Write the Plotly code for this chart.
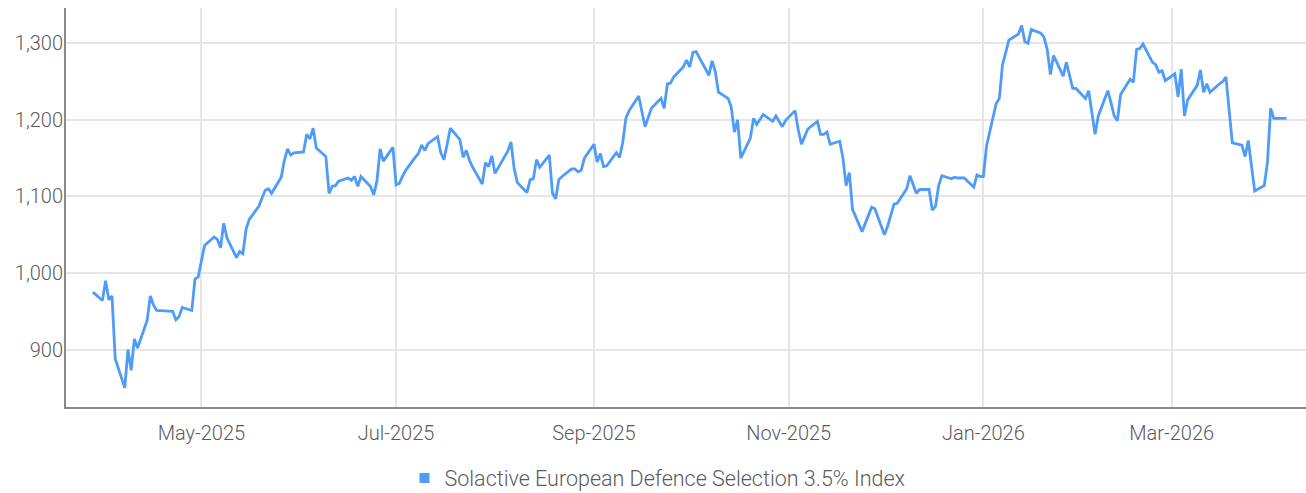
import plotly.graph_objects as go

dates = [
    "2025-03-28", "2025-03-31", "2025-04-01", "2025-04-02", "2025-04-03", "2025-04-04",
    "2025-04-07", "2025-04-08", "2025-04-09", "2025-04-10", "2025-04-11",
    "2025-04-14", "2025-04-15", "2025-04-16", "2025-04-17",
    "2025-04-22", "2025-04-23", "2025-04-24", "2025-04-25",
    "2025-04-28", "2025-04-29", "2025-04-30", "2025-05-02",
    "2025-05-05", "2025-05-06", "2025-05-07", "2025-05-08", "2025-05-09",
    "2025-05-12", "2025-05-13", "2025-05-14", "2025-05-15", "2025-05-16",
    "2025-05-19", "2025-05-20", "2025-05-21", "2025-05-22", "2025-05-23",
    "2025-05-26", "2025-05-27", "2025-05-28", "2025-05-29", "2025-05-30",
    "2025-06-02", "2025-06-03", "2025-06-04", "2025-06-05", "2025-06-06",
    "2025-06-09", "2025-06-10", "2025-06-11", "2025-06-12", "2025-06-13",
    "2025-06-16", "2025-06-17", "2025-06-18", "2025-06-19", "2025-06-20",
    "2025-06-23", "2025-06-24", "2025-06-25", "2025-06-26", "2025-06-27",
    "2025-06-30", "2025-07-01", "2025-07-02", "2025-07-03", "2025-07-04",
    "2025-07-07", "2025-07-08", "2025-07-09", "2025-07-10", "2025-07-11",
    "2025-07-14", "2025-07-15", "2025-07-16", "2025-07-17", "2025-07-18",
    "2025-07-21", "2025-07-22", "2025-07-23", "2025-07-24", "2025-07-25",
    "2025-07-28", "2025-07-29", "2025-07-30", "2025-07-31", "2025-08-01",
    "2025-08-04", "2025-08-05", "2025-08-06", "2025-08-07", "2025-08-08",
    "2025-08-11", "2025-08-12", "2025-08-13", "2025-08-14", "2025-08-15",
    "2025-08-18", "2025-08-19", "2025-08-20", "2025-08-21", "2025-08-22",
    "2025-08-25", "2025-08-26", "2025-08-27", "2025-08-28", "2025-08-29",
    "2025-09-01", "2025-09-02", "2025-09-03", "2025-09-04", "2025-09-05",
    "2025-09-08", "2025-09-09", "2025-09-10", "2025-09-11", "2025-09-12",
    "2025-09-15", "2025-09-16", "2025-09-17", "2025-09-18", "2025-09-19",
    "2025-09-22", "2025-09-23", "2025-09-24", "2025-09-25", "2025-09-26",
    "2025-09-29", "2025-09-30", "2025-10-01", "2025-10-02", "2025-10-03",
    "2025-10-06", "2025-10-07", "2025-10-08", "2025-10-09", "2025-10-10",
    "2025-10-13", "2025-10-14", "2025-10-15", "2025-10-16", "2025-10-17",
    "2025-10-20", "2025-10-21", "2025-10-22", "2025-10-23", "2025-10-24",
    "2025-10-27", "2025-10-28", "2025-10-29", "2025-10-30", "2025-10-31",
    "2025-11-03", "2025-11-04", "2025-11-05", "2025-11-06", "2025-11-07",
    "2025-11-10", "2025-11-11", "2025-11-12", "2025-11-13", "2025-11-14",
    "2025-11-17", "2025-11-18", "2025-11-19", "2025-11-20", "2025-11-21",
    "2025-11-24", "2025-11-25", "2025-11-26", "2025-11-27", "2025-11-28",
    "2025-12-01", "2025-12-02", "2025-12-03", "2025-12-04", "2025-12-05",
    "2025-12-08", "2025-12-09", "2025-12-10", "2025-12-11", "2025-12-12",
    "2025-12-15", "2025-12-16", "2025-12-17", "2025-12-18", "2025-12-19",
    "2025-12-22", "2025-12-23", "2025-12-24", "2025-12-26",
    "2025-12-29", "2025-12-30", "2025-12-31", "2026-01-01", "2026-01-02",
    "2026-01-05", "2026-01-06", "2026-01-07", "2026-01-08", "2026-01-09",
    "2026-01-12", "2026-01-13", "2026-01-14", "2026-01-15", "2026-01-16",
    "2026-01-19", "2026-01-20", "2026-01-21", "2026-01-22", "2026-01-23",
    "2026-01-26", "2026-01-27", "2026-01-28", "2026-01-29", "2026-01-30",
    "2026-02-02", "2026-02-03", "2026-02-04", "2026-02-05", "2026-02-06",
    "2026-02-09", "2026-02-10", "2026-02-11", "2026-02-12", "2026-02-13",
    "2026-02-16", "2026-02-17", "2026-02-18", "2026-02-19", "2026-02-20",
    "2026-02-23", "2026-02-24", "2026-02-25", "2026-02-26", "2026-02-27",
    "2026-03-02", "2026-03-03", "2026-03-04", "2026-03-05", "2026-03-06",
    "2026-03-09", "2026-03-10", "2026-03-11", "2026-03-12", "2026-03-13",
    "2026-03-16", "2026-03-17", "2026-03-18", "2026-03-19", "2026-03-20",
    "2026-03-23", "2026-03-24", "2026-03-25", "2026-03-26", "2026-03-27",
    "2026-03-30", "2026-03-31", "2026-04-01", "2026-04-02", "2026-04-06",
]

index_values = [
    975, 964, 990, 965, 970, 888,
    850, 900, 873, 914, 902,
    938, 970, 958, 951,
    950, 939, 943, 955,
    951, 992, 995, 1036,
    1047, 1044, 1033, 1065, 1046,
    1020, 1028, 1025, 1057, 1070,
    1087, 1098, 1108, 1110, 1104,
    1125, 1147, 1162, 1154, 1157,
    1158, 1181, 1175, 1189, 1163,
    1152, 1104, 1113, 1114, 1120,
    1124, 1121, 1126, 1113, 1126,
    1113, 1102, 1120, 1162, 1146,
    1164, 1115, 1117, 1126, 1134,
    1151, 1156, 1167, 1160, 1169,
    1178, 1157, 1148, 1168, 1189,
    1174, 1151, 1160, 1147, 1138,
    1116, 1144, 1139, 1153, 1130,
    1152, 1159, 1171, 1136, 1118,
    1105, 1122, 1123, 1148, 1138,
    1154, 1104, 1097, 1122, 1126,
    1136, 1136, 1132, 1134, 1150,
    1168, 1145, 1156, 1139, 1140,
    1157, 1151, 1170, 1202, 1212,
    1231, 1211, 1191, 1203, 1215,
    1228, 1215, 1247, 1248, 1256,
    1269, 1278, 1269, 1288, 1289,
    1266, 1258, 1277, 1263, 1236,
    1228, 1217, 1184, 1200, 1150,
    1176, 1202, 1194, 1200, 1207,
    1198, 1205, 1198, 1191, 1199,
    1212, 1187, 1168, 1178, 1188,
    1198, 1181, 1181, 1184, 1168,
    1172, 1150, 1114, 1131, 1083,
    1054, 1065, 1076, 1086, 1084,
    1050, 1061, 1076, 1090, 1091,
    1110, 1127, 1115, 1104, 1109,
    1109, 1082, 1087, 1114, 1127,
    1123, 1125, 1124, 1124,
    1112, 1128, 1126, 1126, 1166,
    1221, 1228, 1272, 1288, 1304,
    1312, 1323, 1302, 1300, 1318,
    1313, 1308, 1292, 1259, 1284,
    1257, 1275, 1258, 1241, 1241,
    1228, 1238, 1210, 1181, 1205,
    1238, 1222, 1205, 1199, 1233,
    1253, 1249, 1292, 1293, 1299,
    1275, 1272, 1262, 1264, 1251,
    1260, 1230, 1266, 1205, 1226,
    1245, 1265, 1236, 1247, 1236,
    1247, 1250, 1256, 1213, 1170,
    1167, 1152, 1173, 1140, 1107,
    1114, 1144, 1215, 1202, 1202,
]

series_name = "Solactive European Defence Selection 3.5% Index"
x_tick_dates = ["2025-05-01", "2025-07-01", "2025-09-01", "2025-11-01", "2026-01-01", "2026-03-01"]
x_tick_labels = ["May-2025", "Jul-2025", "Sep-2025", "Nov-2025", "Jan-2026", "Mar-2026"]
y_tick_values = [900, 1000, 1100, 1200, 1300]
y_tick_labels = ["900", "1,000", "1,100", "1,200", "1,300"]

LINE_COLOR = "#4f9cf8"
TEXT_COLOR = "#5b5b5b"
GRID_COLOR = "#e6e6e6"
AXIS_COLOR = "#8a8a8a"
FONT = "Roboto, 'Open Sans', sans-serif"

fig = go.Figure()
fig.add_trace(go.Scatter(
    x=dates, y=index_values, mode="lines", name=series_name,
    line=dict(color=LINE_COLOR, width=2.8), showlegend=False,
))
# legend entry drawn as a square swatch, as in the reference
fig.add_trace(go.Scatter(
    x=[None], y=[None], mode="markers", name=series_name,
    marker=dict(symbol="square", size=10, color=LINE_COLOR),
    showlegend=True,
))

fig.update_layout(
    width=1306, height=493,
    margin=dict(l=66, r=0, t=8, b=86, autoexpand=False),
    paper_bgcolor="white", plot_bgcolor="white",
    font=dict(family=FONT, size=20, color=TEXT_COLOR, weight=300),
    showlegend=True,
    legend=dict(
        orientation="h", x=0.477, xanchor="center", y=-0.178, yanchor="middle",
        font=dict(family=FONT, size=21.5, color=TEXT_COLOR, weight=300),
        itemwidth=30, bgcolor="rgba(0,0,0,0)",
    ),
    hovermode="x",
)

fig.update_xaxes(
    type="date", automargin=False,
    range=["2025-03-19 14:00", "2026-04-12 02:00"],
    tickvals=x_tick_dates, ticktext=x_tick_labels,
    showgrid=True, gridcolor=GRID_COLOR, gridwidth=2,
    showline=True, linecolor=AXIS_COLOR, linewidth=2,
    ticks="outside", ticklen=7, tickcolor="rgba(0,0,0,0)",
    tickfont=dict(family=FONT, size=20, color=TEXT_COLOR, weight=300),
    zeroline=False,
)
fig.update_yaxes(
    automargin=False,
    range=[825, 1346],
    tickvals=y_tick_values, ticktext=y_tick_labels,
    showgrid=True, gridcolor=GRID_COLOR, gridwidth=2,
    showline=True, linecolor=AXIS_COLOR, linewidth=2,
    ticks="", ticklabelstandoff=-3,
    tickfont=dict(family=FONT, size=20, color=TEXT_COLOR, weight=300),
    zeroline=False,
)

fig.write_html(
    "out.html",
    config={"displayModeBar": False},
    post_script="document.body.style.margin='0';document.body.style.overflow='hidden';",
)
